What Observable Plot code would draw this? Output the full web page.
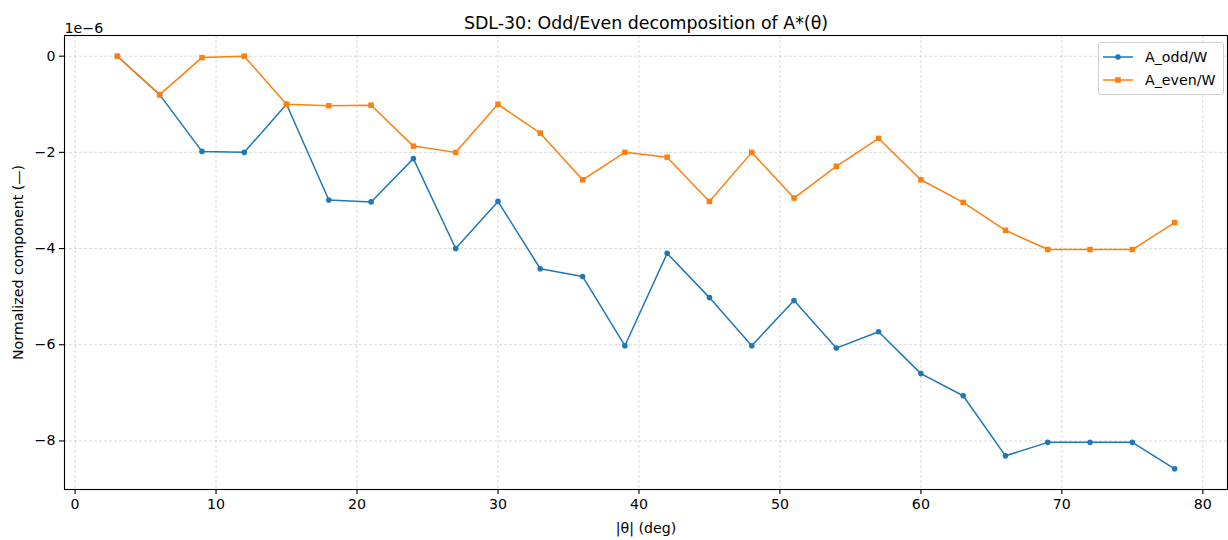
<!DOCTYPE html>
<html>
<head>
<meta charset="utf-8">
<script src="https://cdn.jsdelivr.net/npm/d3@7"></script>
<script src="https://cdn.jsdelivr.net/npm/@observablehq/plot@0.6"></script>
<style>
  html, body { margin: 0; padding: 0; background: #fff; }
  #wrap { position: relative; width: 1228px; height: 540px; font-family: "DejaVu Sans", sans-serif; }
  #legend { position: absolute; left: 1098px; top: 42px; width: 126px; height: 53px;
            border: 1px solid #d0d0d0; border-radius: 3px; background: rgba(255,255,255,0.8); box-sizing: border-box; }
  #legend .row { position: absolute; left: 0; height: 20px; display: flex; align-items: center; font-size: 14.2px; color: #000; }
  #legend svg { margin-left: 4px; margin-right: 12px; }
</style>
</head>
<body>
<div id="wrap">
  <div id="chart"></div>
  <div id="legend"></div>
</div>
<script>
const theta = [3, 6, 9, 12, 15, 18, 21, 24, 27, 30, 33, 36, 39, 42, 45, 48, 51, 54, 57, 60, 63, 66, 69, 72, 75, 78];
const oddVals = [0, -0.8, -1.98, -2.0, -1.0, -2.99, -3.03, -2.13, -4.0, -3.02, -4.42, -4.58, -6.02, -4.1, -5.02, -6.02, -5.08, -6.07, -5.73, -6.6, -7.06, -8.31, -8.03, -8.03, -8.03, -8.58];
const evenVals = [0, -0.8, -0.03, 0, -1.0, -1.03, -1.02, -1.87, -2.0, -1.0, -1.6, -2.57, -2.0, -2.1, -3.02, -2.0, -2.95, -2.29, -1.71, -2.57, -3.04, -3.62, -4.02, -4.02, -4.02, -3.46];
const seriesNames = ["A_odd/W", "A_even/W"];
const seriesColors = ["#1f77b4", "#ff7f0e"];
const xTicks = [0, 10, 20, 30, 40, 50, 60, 70, 80];
const yTicks = [0, -2, -4, -6, -8];
const titleText = "SDL-30: Odd/Even decomposition of A*(θ)";
const xLabel = "|θ| (deg)";
const yLabel = "Normalized component (—)";
const scaleText = "1e−6";

const odd = theta.map((t, i) => ({x: t, y: oddVals[i]}));
const even = theta.map((t, i) => ({x: t, y: evenVals[i]}));

const chart = Plot.plot({
  width: 1228,
  height: 540,
  marginLeft: 64,
  marginRight: 1,
  marginTop: 35,
  marginBottom: 51,
  style: {fontFamily: "DejaVu Sans, sans-serif", fontSize: "14.2px", background: "#fff"},
  x: {domain: [-0.75, 81.75]},
  y: {domain: [-9.01, 0.43]},
  marks: [
    Plot.gridX(xTicks, {stroke: "#b0b0b0", strokeOpacity: 0.6, strokeWidth: 0.8, strokeDasharray: "3,2"}),
    Plot.gridY(yTicks, {stroke: "#b0b0b0", strokeOpacity: 0.6, strokeWidth: 0.8, strokeDasharray: "3,2"}),
    Plot.line(odd, {x: "x", y: "y", stroke: seriesColors[0], strokeWidth: 1.5}),
    Plot.dot(odd, {x: "x", y: "y", fill: seriesColors[0], r: 2.8, symbol: "circle"}),
    Plot.line(even, {x: "x", y: "y", stroke: seriesColors[1], strokeWidth: 1.5}),
    Plot.dot(even, {x: "x", y: "y", fill: seriesColors[1], r: 3.1, symbol: "square"}),
    Plot.frame({stroke: "#000", strokeWidth: 1.1}),
    Plot.axisX(xTicks, {tickSize: 5, tickPadding: 4, strokeWidth: 1.1, label: null, fontSize: 14.2, tickFormat: d3.format("d")}),
    Plot.axisY(yTicks, {tickSize: 5, tickPadding: 4, strokeWidth: 1.1, label: null, fontSize: 14.2, tickFormat: d3.format("d")}),
    Plot.text([titleText], {text: d => d, frameAnchor: "top", dy: -19, fontSize: 17.4, fill: "#000"}),
    Plot.text([scaleText], {text: d => d, frameAnchor: "top-left", textAnchor: "start", dy: -13, fontSize: 14.2, fill: "#000"}),
    Plot.text([xLabel], {text: d => d, frameAnchor: "bottom", dy: 43, fontSize: 14.2, fill: "#000"}),
    Plot.text([yLabel], {text: d => d, frameAnchor: "left", textAnchor: "middle", dx: -46, rotate: -90, fontSize: 14.2, fill: "#000"})
  ]
});
document.getElementById("chart").appendChild(chart);

// legend
const legend = document.getElementById("legend");
seriesNames.forEach((name, i) => {
  const row = document.createElement("div");
  row.className = "row";
  row.style.top = (4 + i * 23) + "px";
  const marker = i === 0
    ? `<circle cx="15" cy="10" r="2.8" fill="${seriesColors[i]}"/>`
    : `<rect x="12.2" y="7.2" width="5.6" height="5.6" fill="${seriesColors[i]}"/>`;
  row.innerHTML = `<svg width="30" height="20"><line x1="0" y1="10" x2="30" y2="10" stroke="${seriesColors[i]}" stroke-width="1.5"/>${marker}</svg><span>${name}</span>`;
  legend.appendChild(row);
});
</script>
</body>
</html>
